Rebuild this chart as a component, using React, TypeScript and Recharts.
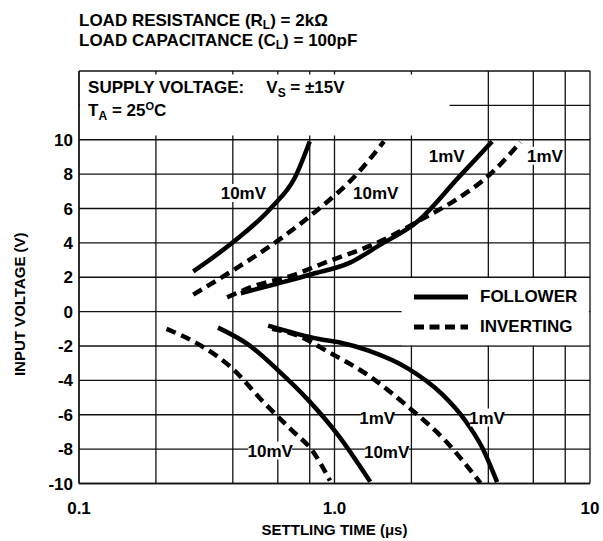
import React from "react";
import {
  CartesianGrid,
  Legend,
  Line,
  LineChart,
  ReferenceArea,
  ReferenceDot,
  XAxis,
  YAxis,
} from "recharts";

const FONT = "'Liberation Sans', Arial, Helvetica, sans-serif";

// settling time (us) vs input voltage (V)
const followerPos10mV = [
  [0.28, 2.34], [0.4, 4.03], [0.57, 6.1], [0.7, 7.81], [0.8, 9.9],
];
const invertingPos10mV = [
  [0.28, 0.99], [0.38, 2.19], [0.6, 4.13], [0.82, 5.68], [1.24, 8.1], [1.56, 9.9],
];
const followerPos1mV = [
  [0.43, 1.07], [0.59, 1.61], [0.82, 2.19], [1.15, 2.85], [1.49, 3.84],
  [2.13, 5.29], [3.06, 7.81], [4.14, 9.9],
];
const invertingPos1mV = [
  [0.38, 0.83], [0.49, 1.51], [0.68, 2.09], [0.89, 2.77], [1.58, 4.22], [2.2, 5.39],
  [2.88, 6.36], [4.14, 8.1], [5.34, 9.85],
];
const invertingNeg10mV = [
  [0.22, -1.0], [0.3, -1.98], [0.4, -3.33], [0.52, -5.17], [0.68, -6.9], [0.82, -8.1], [0.96, -9.83],
];
const followerNeg10mV = [
  [0.35, -0.93], [0.46, -1.92], [0.6, -3.4], [0.79, -5.15], [1.04, -7.24], [1.38, -9.9],
];
const followerNeg1mV = [
  [0.55, -0.81], [0.87, -1.59], [1.04, -1.78], [1.36, -2.27], [1.95, -3.33], [2.63, -4.79],
  [3.25, -6.34], [3.78, -7.89], [4.33, -9.92],
];
const invertingNeg1mV = [
  [0.57, -1.0], [0.72, -1.4], [0.95, -2.36], [1.36, -3.72], [1.95, -5.56],
  [2.71, -7.5], [3.73, -9.98],
];

const xTicks = [0.1, 0.2, 0.4, 0.6, 0.8, 1, 2, 4, 6, 8, 10];
const xTickLabels: Record<number, string> = { 0.1: "0.1", 1: "1.0", 10: "10" };
const yTicks = [-10, -8, -6, -4, -2, 0, 2, 4, 6, 8, 10, 12, 14];

// curve annotations (x in us, y in V)
const curveLabels = [
  { x: 0.44, y: 6.9, text: "10mV" },
  { x: 1.45, y: 6.92, text: "10mV" },
  { x: 2.75, y: 9.07, text: "1mV" },
  { x: 6.66, y: 9.07, text: "1mV" },
  { x: 1.47, y: -6.16, text: "1mV" },
  { x: 3.95, y: -6.16, text: "1mV" },
  { x: 0.56, y: -8.08, text: "10mV" },
  { x: 1.6, y: -8.14, text: "10mV" },
];

const legendItems = [
  { name: "FOLLOWER", dash: undefined },
  { name: "INVERTING", dash: "10 5.5" },
];

const toPoints = (rows: number[][]) => rows.map(([x, y]) => ({ x, y }));

const series = [
  { key: "fp10", rows: followerPos10mV, dashed: false },
  { key: "ip10", rows: invertingPos10mV, dashed: true },
  { key: "fp1", rows: followerPos1mV, dashed: false },
  { key: "ip1", rows: invertingPos1mV, dashed: true },
  { key: "in10", rows: invertingNeg10mV, dashed: true },
  { key: "fn10", rows: followerNeg10mV, dashed: false },
  { key: "fn1", rows: followerNeg1mV, dashed: false },
  { key: "in1", rows: invertingNeg1mV, dashed: true },
];

const CurveLabel = ({ cx, cy, text }: { cx?: number; cy?: number; text: string }) => {
  if (cx == null || cy == null) return null;
  const w = text.length * 10.5 + 2;
  return (
    <g>
      <rect x={cx - w / 2} y={cy - 9} width={w} height={18} fill="#fff" />
      <text
        x={cx}
        y={cy}
        dy="0.36em"
        textAnchor="middle"
        fontFamily={FONT}
        fontWeight={700}
        fontSize={17}
        fill="#000"
      >
        {text}
      </text>
    </g>
  );
};

const HeaderText = (props: any) => {
  const vb = props.viewBox || {};
  const x = vb.x + 8;
  const y = vb.y;
  return (
    <text fontFamily={FONT} fontWeight={700} fontSize={17} fill="#000">
      <tspan x={x} y={y + 19}>SUPPLY VOLTAGE:</tspan>
      <tspan dx={22}>V</tspan>
      <tspan dy={4} fontSize={12}>S</tspan>
      <tspan dy={-4} style={{ whiteSpace: "pre" }}> = ±15V</tspan>
      <tspan x={x} y={y + 42}>T</tspan>
      <tspan dy={4} fontSize={12}>A</tspan>
      <tspan dy={-4} style={{ whiteSpace: "pre" }}> = 25</tspan>
      <tspan dy={-6} fontSize={11}>O</tspan>
      <tspan dy={6}>C</tspan>
    </text>
  );
};

const renderLegend = () => (
  <div style={{ fontFamily: FONT, fontWeight: 700, fontSize: 17, color: "#000" }}>
    {legendItems.map((item) => (
      <div key={item.name} style={{ display: "flex", alignItems: "center", height: 30 }}>
        <svg width={54} height={10}>
          <line x1={0} y1={5} x2={54} y2={5} stroke="#000" strokeWidth={5} strokeDasharray={item.dash} />
        </svg>
        <span style={{ marginLeft: 12 }}>{item.name}</span>
      </div>
    ))}
  </div>
);

const subStyle = { fontSize: 12, verticalAlign: "-3px", lineHeight: 0 };

export default function App() {
  return (
    <div style={{ position: "absolute", left: 0, top: 0, width: 603, height: 541, background: "#fff" }}>
      <div
        style={{
          position: "absolute",
          left: 79,
          top: 11,
          fontFamily: FONT,
          fontWeight: 700,
          fontSize: 17,
          lineHeight: "20px",
          color: "#000",
          zIndex: 1,
        }}
      >
        <div>
          LOAD RESISTANCE (R<sub style={subStyle}>L</sub>) = 2kΩ
        </div>
        <div>
          LOAD CAPACITANCE (C<sub style={subStyle}>L</sub>) = 100pF
        </div>
      </div>
      <LineChart width={603} height={541} margin={{ top: 71, right: 13, left: 0, bottom: 0 }}>
        <CartesianGrid stroke="#111" strokeWidth={1.3} />
        <XAxis
          dataKey="x"
          type="number"
          scale="log"
          domain={[0.1, 10]}
          ticks={xTicks}
          interval={0}
          allowDataOverflow
          height={57.5}
          tickLine={false}
          axisLine={{ stroke: "#111", strokeWidth: 1.3 }}
          tickMargin={12}
          tickFormatter={(v: number) => xTickLabels[v] ?? ""}
          tick={{ fontFamily: FONT, fontWeight: 700, fontSize: 17, fill: "#000" }}
          label={{
            content: (p: any) => (
              <text
                x={p.viewBox.x + p.viewBox.width / 2}
                y={535}
                textAnchor="middle"
                fontFamily={FONT}
                fontWeight={700}
                fontSize={15}
                fill="#000"
              >
                SETTLING TIME (μs)
              </text>
            ),
          }}
        />
        <YAxis
          type="number"
          domain={[-10, 14]}
          ticks={yTicks}
          interval={0}
          width={79}
          tickLine={false}
          axisLine={{ stroke: "#111", strokeWidth: 1.3 }}
          tickMargin={0}
          tickFormatter={(v: number) => (v > 10 ? "" : String(v))}
          tick={{ fontFamily: FONT, fontWeight: 700, fontSize: 17, fill: "#000" }}
          label={{
            content: (p: any) => {
              const cx = 20;
              const cy = p.viewBox.y + p.viewBox.height / 2 + 27;
              return (
                <text
                  x={cx}
                  y={cy}
                  transform={`rotate(-90 ${cx} ${cy})`}
                  textAnchor="middle"
                  dy="0.36em"
                  fontFamily={FONT}
                  fontWeight={700}
                  fontSize={15}
                  fill="#000"
                >
                  INPUT VOLTAGE (V)
                </text>
              );
            },
          }}
        />
        <ReferenceArea x1={0.101} x2={2.82} y1={10.25} y2={13.8} fill="#fff" fillOpacity={1} stroke="none" label={HeaderText} />
        <ReferenceArea x1={1.83} x2={9.9} y1={-1.95} y2={1.95} fill="#fff" fillOpacity={1} stroke="none" />
        {series.map((s) => (
          <Line
            key={s.key}
            data={toPoints(s.rows)}
            dataKey="y"
            type="monotone"
            stroke="#000"
            strokeWidth={4.5}
            strokeDasharray={s.dashed ? "10 6" : undefined}
            dot={false}
            activeDot={false}
            isAnimationActive={false}
          />
        ))}
        {curveLabels.map((l, i) => (
          <ReferenceDot
            key={i}
            x={l.x}
            y={l.y}
            r={0}
            ifOverflow="visible"
            shape={(p: any) => <CurveLabel cx={p.cx} cy={p.cy} text={l.text} />}
          />
        ))}
        <Legend
          layout="vertical"
          align="center"
          verticalAlign="middle"
          content={renderLegend}
          wrapperStyle={{ left: 414, top: 282, width: 176 }}
        />
      </LineChart>
    </div>
  );
}
